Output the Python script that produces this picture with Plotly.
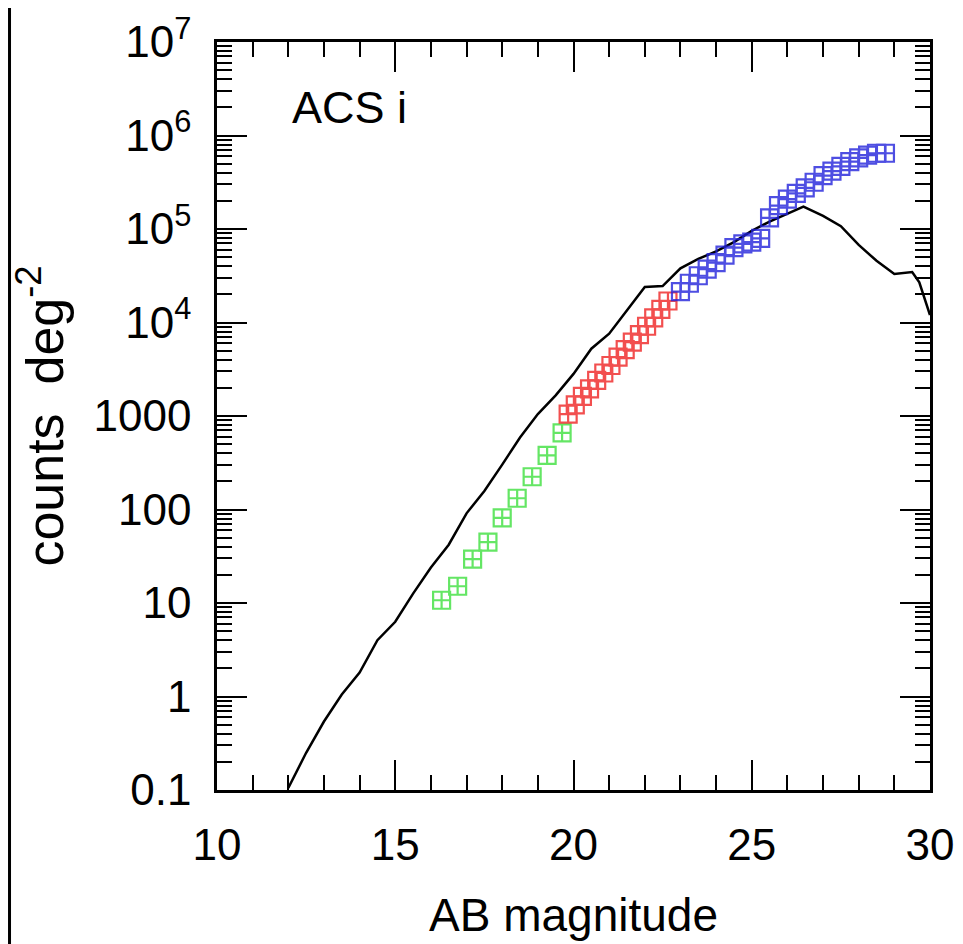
import plotly.graph_objects as go

# Model curve (black line)
model_mag = [12.0, 12.5, 13.0, 13.5, 14.0, 14.5, 15.0, 15.5, 16.0, 16.5, 17.0, 17.5, 18.0, 18.5,
             19.0, 19.5, 20.0, 20.5, 21.0, 21.5, 22.0, 22.5, 23.0, 23.5, 24.0, 24.5, 25.0, 25.5,
             26.0, 26.45, 27.0, 27.5, 28.0, 28.5, 29.0, 29.5, 29.7, 30.0]
model_counts = [0.105, 0.25, 0.54, 1.05, 1.8, 4.0, 6.3, 12.6, 24, 42, 91, 158, 302, 589,
                1050, 1660, 2820, 5250, 7590, 13500, 24000, 24500, 38000, 47900, 57500, 72400, 95500, 120200,
                144500, 173800, 138000, 107200, 67600, 45700, 33100, 34700, 26900, 12000]

# Green data
green_mag = [16.3, 16.75, 17.17, 17.6, 18.0, 18.42, 18.84, 19.26, 19.68]
green_counts = [10.7, 15.1, 29.5, 44.7, 81.3, 132, 224, 380, 661]

# Red data
red_mag = [19.85, 20.05, 20.25, 20.45, 20.65, 20.85, 21.05, 21.25, 21.45, 21.65, 21.85, 22.05, 22.25, 22.45, 22.65]
red_counts = [1047, 1318, 1622, 1950, 2399, 2884, 3467, 4266, 5129, 6166, 7413, 9120, 11220, 13800, 16980]

# Blue data
blue_mag = [23.0, 23.25, 23.5, 23.75, 24.0, 24.25, 24.5, 24.75, 25.0, 25.25, 25.5, 25.75,
            26.0, 26.25, 26.5, 26.75, 27.0, 27.25, 27.5, 27.75, 28.0, 28.25, 28.5, 28.75]
blue_counts = [21380, 26300, 31620, 37150, 43650, 52480, 63100, 69180, 72440, 79430, 131800, 177800,
               208900, 239900, 275400, 316200, 371500, 416900, 467700, 524800, 575400, 616600, 645700, 645700]

y_tickvals = [0.1, 1, 10, 100, 1000, 1e4, 1e5, 1e6, 1e7]
y_ticktext = ["0.1", "1", "10", "100", "1000", "10<sup>4</sup>", "10<sup>5</sup>", "10<sup>6</sup>", "10<sup>7</sup>"]
x_tickvals = [10, 15, 20, 25, 30]

FONT = "Liberation Sans, Arial, sans-serif"

fig = go.Figure()
fig.add_trace(go.Scatter(x=model_mag, y=model_counts, mode="lines",
                         line=dict(color="black", width=2.5), showlegend=False))
for mags, counts, col in [(green_mag, green_counts, "#3ee03e"),
                          (red_mag, red_counts, "#f02424"),
                          (blue_mag, blue_counts, "#2222dc")]:
    fig.add_trace(go.Scatter(x=mags, y=counts, mode="markers",
                             marker=dict(symbol="square-cross-open", size=17, color=col,
                                         line=dict(width=2.2, color=col)),
                             opacity=0.8, showlegend=False))

fig.update_layout(
    width=963, height=944,
    margin=dict(l=209, r=41, t=34, b=162),
    paper_bgcolor="white", plot_bgcolor="white",
    font=dict(family=FONT, color="black", size=44),
    xaxis=dict(range=[10, 30], tickvals=x_tickvals, ticks="inside", ticklen=30, tickwidth=1.5,
               tickcolor="black", showline=True, linecolor="black", linewidth=2.5, mirror="ticks",
               showgrid=False, zeroline=False, tickfont=dict(size=44), ticklabelstandoff=14,
               automargin=False,
               minor=dict(dtick=1, ticks="inside", ticklen=15, tickwidth=1.5, tickcolor="black", showgrid=False),
               title=dict(text="AB magnitude", font=dict(size=46), standoff=32)),
    yaxis=dict(type="log", range=[-1, 7], tickvals=y_tickvals, ticktext=y_ticktext,
               ticks="inside", ticklen=30, tickwidth=1.5, tickcolor="black",
               showline=True, linecolor="black", linewidth=2.5, mirror="ticks",
               showgrid=False, zeroline=False, tickfont=dict(size=44), ticklabelstandoff=14,
               automargin=False,
               minor=dict(dtick="D1", ticks="inside", ticklen=15, tickwidth=1.5, tickcolor="black", showgrid=False),
               title=dict(text="counts  deg<sup>-2</sup>", font=dict(size=52), standoff=26)),
    annotations=[dict(x=0.102, y=0.913, xref="paper", yref="paper", text="ACS i", showarrow=False,
                      xanchor="left", yanchor="middle", font=dict(size=45, family=FONT))],
    shapes=[dict(type="line", xref="paper", yref="paper", x0=-0.291, x1=-0.291, y0=-0.3, y1=1.1,
                 line=dict(color="black", width=3))],
)

fig.write_html("out.html")
